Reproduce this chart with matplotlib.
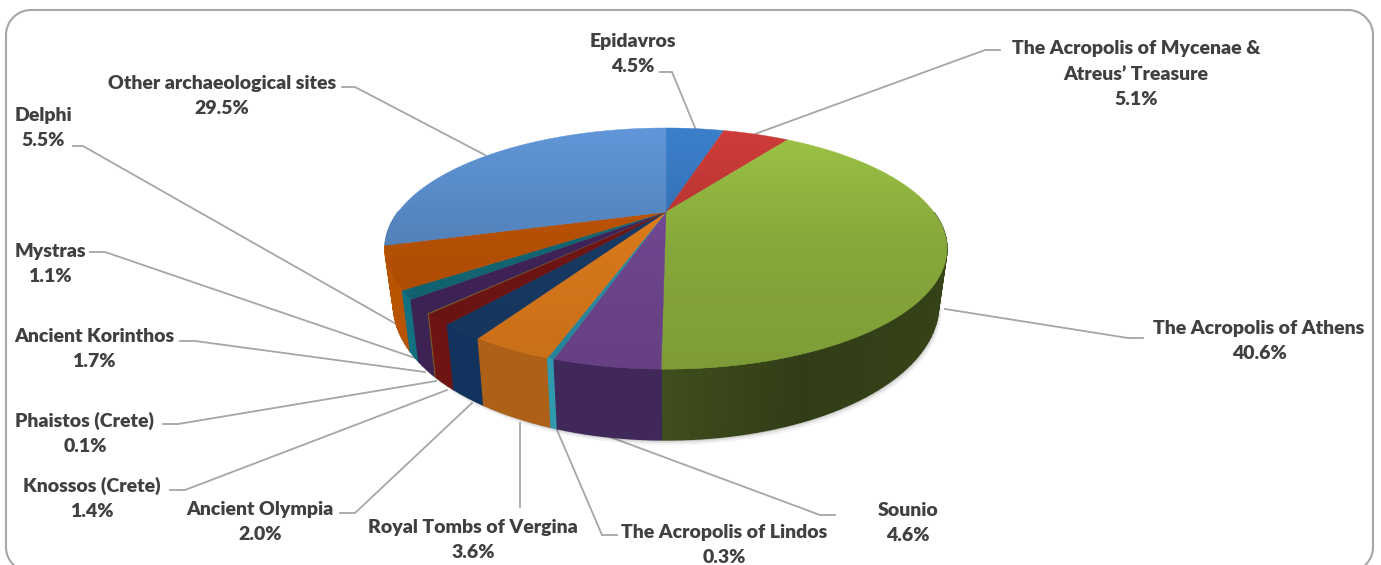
import numpy as np
import matplotlib
matplotlib.use("Agg")
import matplotlib.pyplot as plt
from matplotlib.patches import Polygon

plt.rcParams['font.family'] = ['Lato', 'DejaVu Sans']

# clockwise from 12 o'clock
sites = ["Epidavros", "The Acropolis of Mycenae &\nAtreus’ Treasure", "The Acropolis of Athens",
         "Sounio", "The Acropolis of Lindos", "Royal Tombs of Vergina", "Ancient Olympia",
         "Knossos (Crete)", "Phaistos (Crete)", "Ancient Korinthos", "Mystras", "Delphi",
         "Other archaeological sites"]
shares = [4.5, 5.1, 40.6, 4.6, 0.3, 3.6, 2.0, 1.4, 0.1, 1.7, 1.1, 5.5, 29.5]

top_colors = ["#3b7fcb", "#cf3c39", "#9cc345", "#7f50a2", "#31a3bb", "#f98a1f", "#1b4272",
              "#801818", "#8f6c2e", "#4a2966", "#167484", "#d05c04", "#6096d8"]
side_colors = ["#2a5a90", "#8f2826", "#3f4e1c", "#40285a", "#2f99ad", "#ad6018", "#12335e",
               "#6e1414", "#7a5a20", "#3c2354", "#127080", "#b85400", "#466f9f"]

# label centre x, first line y
label_x = [633, 1136, 1259, 908, 724, 473, 260, 92, 85, 94, 50, 43, 222]
label_y = [41.5, 48.5, 328.5, 510.5, 532.5, 527.5, 509.5, 485.5, 420.5, 336.5, 251.5, 115.5, 83.5]
LINE_GAP = 25.5

leaders = [
    [(660, 72), (672, 72), (696, 130)],
    [(1000, 50), (985, 50), (755, 134)],
    [(1143, 338), (1128, 338), (945, 309)],
    [(835, 515), (820, 515), (610, 437)],
    [(617, 535), (602, 535), (557, 430)],
    [(520, 507), (520, 423)],
    [(340, 513), (355, 513), (472, 403)],
    [(170, 490), (185, 490), (447, 390)],
    [(163, 424), (178, 424), (436, 381)],
    [(180, 341), (195, 341), (425, 372)],
    [(90, 252), (105, 252), (415, 358)],
    [(73, 146), (83, 146), (398, 325)],
    [(342, 87), (355, 87), (485, 155)],
]

# pie geometry in pixels, perspective fitted to the picture
CX, CY = 666, 212
A, B, K = 267.8, 109.5, 0.303
FLOOR_Y, FLOOR_SX, FLOOR_SY = 264, 0.97, 1.12


def project(theta):
    u, v = np.sin(theta), np.cos(theta)
    w = 1 + K * v
    return A * u / w, -B * v / w


def rim(theta):
    dx, dy = project(theta)
    return CX + dx, CY + dy


def floor(theta):
    dx, dy = project(theta)
    return CX + FLOOR_SX * dx, FLOOR_Y + FLOOR_SY * dy


def side_shade(x):
    return np.interp(x, [400, 560, 664, 800, 940], [1.0, 1.0, 1.0, 0.78, 0.85])


def rounded_frame(x0, y0, x1, y1, r):
    q = np.linspace(0, np.pi / 2, 20)
    xs = np.r_[x1 - r + r * np.sin(q), x1 - r + r * np.cos(q),
               x0 + r - r * np.sin(q), x0 + r - r * np.cos(q)]
    ys = np.r_[y0 + r - r * np.cos(q), y1 - r + r * np.sin(q),
               y1 - r + r * np.cos(q), y0 + r - r * np.sin(q)]
    return np.r_[xs, xs[0]], np.r_[ys, ys[0]]


fig = plt.figure(figsize=(13.81, 5.65), dpi=100)
ax = fig.add_axes([0, 0, 1, 1])

edges = np.radians(np.cumsum([0] + shares) * 3.6)

# soft shadow under the wall
all_t = np.linspace(0, 2 * np.pi, 361)
for off, al in [(5, 0.05), (3, 0.07), (1.5, 0.1)]:
    fx, fy = floor(all_t)
    ax.fill(fx + off * 0.6, fy + off, color="black", alpha=al, lw=0, zorder=2)

# wall, in thin strips so that it can be shaded along x
order = np.argsort(-np.cos((edges[:-1] + edges[1:]) / 2))
for i in order:
    n = max(2, int(np.degrees(edges[i + 1] - edges[i]) / 1.5))
    t = np.linspace(edges[i], edges[i + 1], n + 1)
    base = np.array(matplotlib.colors.to_rgb(side_colors[i]))
    for a, b in zip(t[:-1], t[1:]):
        # back part of the wall is hidden by the top face anyway
        if np.cos((a + b) / 2) > 0.0:
            continue
        x1, y1 = rim(a)
        x2, y2 = rim(b)
        x3, y3 = floor(b)
        x4, y4 = floor(a)
        c = base * side_shade((x1 + x2) / 2)
        ax.fill([x1, x2, x3, x4], [y1, y2, y3, y4], color=c, lw=1.0, zorder=3)

# top face
for i in range(len(shares)):
    t = np.linspace(edges[i], edges[i + 1], max(3, int(shares[i] * 4)))
    x, y = rim(t)
    ax.fill(np.r_[CX, x], np.r_[CY, y], color=top_colors[i], lw=0.3, zorder=4)

# top face darkens towards the viewer
gx, gy = rim(all_t)
grad = np.zeros((256, 2, 4))
grad[..., 3] = np.interp(np.linspace(gy.min(), gy.max(), 256), [128, 245, 369], [0, 0.14, 0.2])[:, None]
im = ax.imshow(grad, extent=[gx.min(), gx.max(), gy.max(), gy.min()], aspect="auto", zorder=5)
im.set_clip_path(Polygon(np.c_[gx, gy], closed=True, transform=ax.transData))

for pts in leaders:
    xs, ys = zip(*pts)
    ax.plot(xs, ys, color="#a6a6a6", lw=1.3, zorder=1, solid_joinstyle="miter")

for name, share, x, y in zip(sites, shares, label_x, label_y):
    n_lines = name.count("\n") + 2
    ax.text(x, y + LINE_GAP * (n_lines - 1) / 2, f"{name}\n{share:.1f}%", ha="center", va="center",
            fontsize=14, fontweight="heavy", color="#404040", linespacing=1.58, zorder=6)

fx, fy = rounded_frame(6, 10, 1373, 572, 25)
ax.plot(fx, fy, color="#a6a6a6", lw=1.5, zorder=7)

ax.set_xlim(0, 1381)
ax.set_ylim(565, 0)
ax.axis("off")
fig.savefig("out.png", dpi=100, facecolor="white")
